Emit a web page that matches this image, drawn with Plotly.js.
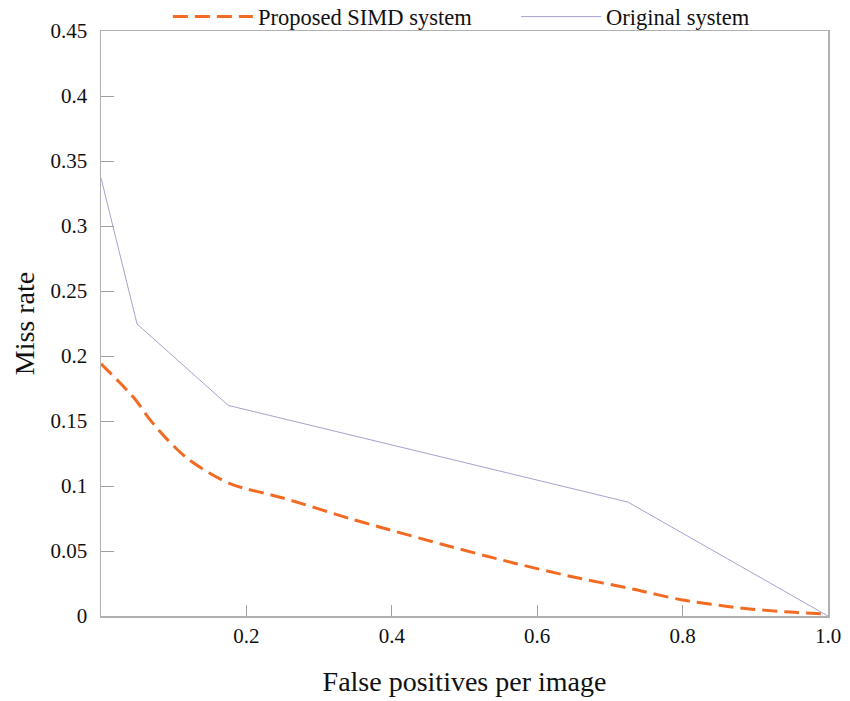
<!DOCTYPE html>
<html>
<head>
<meta charset="utf-8">
<script src="https://cdn.plot.ly/plotly-3.0.1.min.js"></script>
<style>html,body{margin:0;padding:0;background:#fff;}#chart{width:850px;height:701px;}</style>
</head>
<body>
<div id="chart"></div>
<script>
// Proposed SIMD system (dashed orange)
const simdX = [0, 0.025, 0.048, 0.066, 0.089, 0.117, 0.149, 0.181, 0.249, 0.342, 0.383, 0.47, 0.566, 0.65, 0.731, 0.80, 0.879, 0.948, 1.0];
const simdY = [0.194, 0.180, 0.166, 0.152, 0.137, 0.122, 0.110, 0.101, 0.091, 0.075, 0.0685, 0.055, 0.041, 0.030, 0.0208, 0.0123, 0.0062, 0.003, 0.0015];
// Original system (thin purple)
const origX = [0, 0.0496, 0.175, 0.7245, 1.0];
const origY = [0.337, 0.2246, 0.162, 0.0877, 0.0];

const xTickVals = [0.2, 0.4, 0.6, 0.8, 1.0];
const xTickText = ['0.2', '0.4', '0.6', '0.8', '1.0'];
const yTickVals = [0, 0.05, 0.1, 0.15, 0.2, 0.25, 0.3, 0.35, 0.4, 0.45];
const yTickText = ['0', '0.05', '0.1', '0.15', '0.2', '0.25', '0.3', '0.35', '0.4', '0.45'];

const serif = 'Liberation Serif, Times New Roman, serif';

const traces = [
  {x: simdX, y: simdY, name: 'Proposed SIMD system', mode: 'lines', legend: 'legend',
   line: {color: '#f36a22', width: 3, dash: '15px,7px', shape: 'spline', smoothing: 0.8}},
  {x: origX, y: origY, name: 'Original system', mode: 'lines', legend: 'legend2',
   line: {color: '#a3a3d0', width: 1}}
];

const axisCommon = {
  showgrid: false, zeroline: false, showline: true, mirror: true,
  linecolor: '#b0b0b0', linewidth: 1.5,
  ticks: 'inside', tickcolor: '#a0a0a0', tickwidth: 1,
  tickfont: {family: serif, size: 21, color: '#111'}
};

const legendCommon = {
  orientation: 'h', xanchor: 'left', y: 1.024, yanchor: 'middle',
  font: {family: serif, size: 22.5, color: '#111'}, itemwidth: 80, bgcolor: 'rgba(0,0,0,0)'
};

const layout = {
  width: 850, height: 701,
  margin: {l: 101, r: 22, t: 31, b: 85, autoexpand: false},
  paper_bgcolor: '#fff', plot_bgcolor: '#fff',
  font: {family: serif, color: '#111'},
  showlegend: true,
  legend: Object.assign({}, legendCommon, {x: 0.092}),
  legend2: Object.assign({}, legendCommon, {x: 0.571}),
  xaxis: Object.assign({}, axisCommon, {
    range: [0, 1], tickmode: 'array', tickvals: xTickVals, ticktext: xTickText, ticklen: 11,
    title: {text: 'False positives per image', font: {family: serif, size: 28, color: '#111'}, standoff: 24}
  }),
  yaxis: Object.assign({}, axisCommon, {
    range: [0, 0.45], tickmode: 'array', tickvals: yTickVals, ticktext: yTickText, ticklen: 13,
    ticklabelstandoff: 8,
    title: {text: 'Miss rate', font: {family: serif, size: 28, color: '#111'}, standoff: 7}
  })
};

Plotly.newPlot('chart', traces, layout, {displayModeBar: false, staticPlot: true});
</script>
</body>
</html>
